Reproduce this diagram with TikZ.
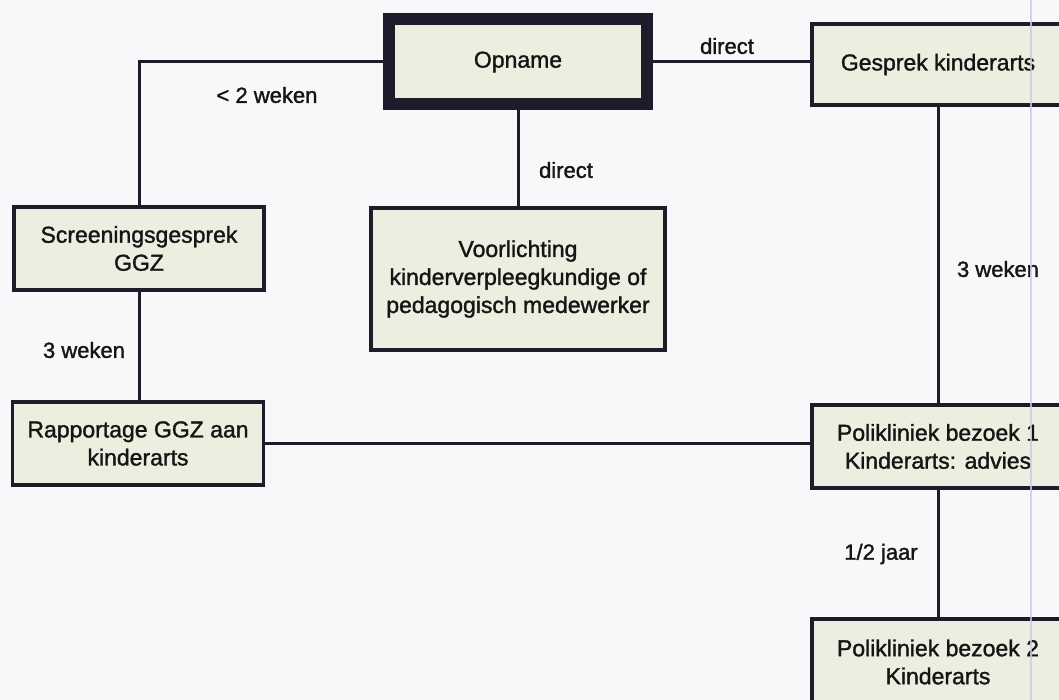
\documentclass[tikz,border=0pt]{standalone}
\usepackage{fontspec}
\setmainfont{Liberation Sans}
\newfontfamily\heavyfont{Liberation Sans}[FakeBold=1.4]
\definecolor{bgc}{HTML}{F8F8FB}
\definecolor{boxc}{HTML}{EDEEDF}
\definecolor{linec}{HTML}{1C1C2A}
\definecolor{textc}{HTML}{151515}
\definecolor{scanline}{HTML}{C9C9EE}
\begin{document}
\begin{tikzpicture}[x=1pt,y=-1pt,
  box/.style={draw=linec, fill=boxc, line width=3.5pt, rectangle, minimum width=250pt, minimum height=83pt, align=center, inner sep=0pt, text=textc, font=\heavyfont\fontsize{23}{28}\selectfont},
  mainbox/.style={box, line width=12pt, minimum width=258pt, minimum height=85pt},
  conn/.style={draw=linec, line width=3pt},
  lbl/.style={font=\heavyfont\fontsize{22}{26}\selectfont, text=textc, inner sep=0pt}]
\path[fill=bgc] (0,0) rectangle (1059,700);
\useasboundingbox (0,0) rectangle (1059,700);
\begin{scope}
\clip (0,0) rectangle (1059,700);
\node[mainbox] (opname) at (518,62) {Opname};
\node[box, minimum width=252pt, minimum height=81pt] (gesprek) at (938,64.5) {Gesprek kinderarts};
\node[box] (screen) at (139,248.5) {Screeningsgesprek\\GGZ};
\node[box, minimum width=294pt, minimum height=142pt] (voor) at (518,279) {Voorlichting\\kinderverpleegkundige of\\pedagogisch medewerker};
\node[box, minimum width=251pt] (rapp) at (138,443.5) {Rapportage GGZ aan\\kinderarts};
\node[box, minimum width=252pt] (poli1) at (938,446.5) {Polikliniek bezoek 1\\Kinderarts: advies};
\node[box, minimum width=252pt, minimum height=86pt] (poli2) at (938,662) {Polikliniek bezoek 2\\Kinderarts};

\draw[conn] (opname.west) -| (screen.north);
\draw[conn] (opname.east) -- (opname.east -| gesprek.west);
\draw[conn] (opname.south) -- (voor.north);
\draw[conn] (gesprek.south) -- (gesprek.south |- poli1.north);
\draw[conn] (screen.south) -- (screen.south |- rapp.north);
\draw[conn] (rapp.east) -- (rapp.east -| poli1.west);
\draw[conn] (poli1.south) -- (poli2.north);

\node[lbl] (l1) at (267,95) {\textless{} 2 weken};
\node[lbl] (l2) at (727,46) {direct};
\node[lbl] (l3) at (566,170) {direct};
\node[lbl] (l4) at (998,269) {3 weken};
\node[lbl] (l5) at (84,350) {3 weken};
\node[lbl] (l6) at (881,554) {1/2 jaar};

\coordinate (s1) at (1031,0);
\coordinate (s2) at (1031,700);
\draw[scanline, line width=1.5pt, opacity=0.8] (s1) -- (s2);
\end{scope}
\end{tikzpicture}
\end{document}
